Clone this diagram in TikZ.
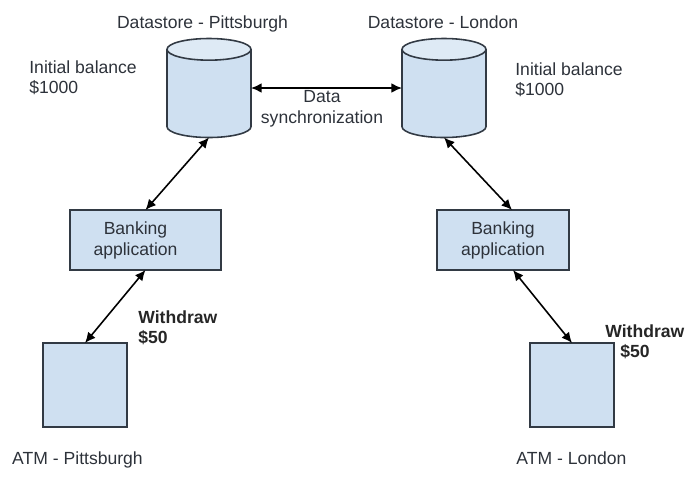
\documentclass[tikz,border=0pt]{standalone}
\usepackage{fontspec}
\setmainfont{Liberation Sans}
\usetikzlibrary{shapes.geometric,arrows.meta,positioning,calc}
\definecolor{boxfill}{RGB}{207,224,241}
\definecolor{endfill}{RGB}{222,234,245}
\definecolor{boxline}{RGB}{50,58,68}
\definecolor{textgray}{RGB}{45,50,58}
\tikzset{
store/.style = {draw=boxline, line width=0.9pt, shape=cylinder, shape border rotate=90, shape aspect=1.85, cylinder uses custom fill, cylinder body fill=boxfill, cylinder end fill=endfill, minimum width=84*0.02cm, minimum height=99*0.02cm, outer sep=0pt, anchor=shape center},
block/.style = {draw=boxline, fill=boxfill, line width=0.9pt, rectangle, align=center, text=textgray, inner sep=0pt, outer sep=0pt},
atm/.style   = {block, minimum width=84*0.02cm, minimum height=84*0.02cm},
bank/.style  = {block, minimum height=60*0.02cm, font=\fontsize{10}{11.9}\selectfont},
label/.style = {align=left, text=textgray, inner sep=0pt, font=\fontsize{10}{11.9}\selectfont},
bold/.style  = {label, font=\fontsize{10}{11.9}\selectfont\bfseries, text=black!85},
link/.style  = {<->, line width=0.9pt, black}
}

\begin{document}
\begin{tikzpicture}[x=0.02cm, y=-0.02cm, >={Latex[length=6pt,width=5.5pt]}]
  \useasboundingbox (0,0) rectangle (700,481);

  \node [store] (storea) at (209,88)  {};
  \node [store] (storeb) at (444,88)  {};
  \node [bank, minimum width=151*0.02cm] (banka) at (145.5,240) {\hspace*{-0.4cm}Banking\\\hspace*{-0.4cm}application};
  \node [bank, minimum width=132*0.02cm] (bankb) at (503,240)   {Banking\\application};
  \node [atm]   (atma)   at (85,385)  {};
  \node [atm]   (atmb)   at (572,385) {};

  \node [label, anchor=base]      (namea)  at (202.5,28)  {Datastore - Pittsburgh};
  \node [label, anchor=base]      (nameb)  at (443,28)    {Datastore - London};
  \node [label, anchor=north west] (bala)  at (29,60)     {Initial balance\\\$1000};
  \node [label, anchor=north west] (balb)  at (515,62)    {Initial balance\\\$1000};
  \node [label, align=center, anchor=north] (sync) at (322,90) {Data\\synchronization};
  \node [bold, anchor=north west] (wda)    at (138,310)   {Withdraw\\\$50};
  \node [bold, anchor=north west] (wdb)    at (605,324)   {Withdraw\\\hspace*{0.3cm}\$50};
  \node [label, anchor=base]      (atmnamea) at (77.5,464) {ATM - Pittsburgh};
  \node [label, anchor=base]      (atmnameb) at (571.5,464) {ATM - London};

  \draw [link] (storea.east |- storea.shape center) -- (storeb.west |- storeb.shape center);
  \draw [link] (storea.south) -- (banka.north);
  \draw [link] (storeb.south) -- ($(bankb.north)+(9,0)$);
  \draw [link] (banka.south)  -- (atma.north);
  \draw [link] ($(bankb.south)+(10,0)$) -- (atmb.north);
\end{tikzpicture}
\end{document}
